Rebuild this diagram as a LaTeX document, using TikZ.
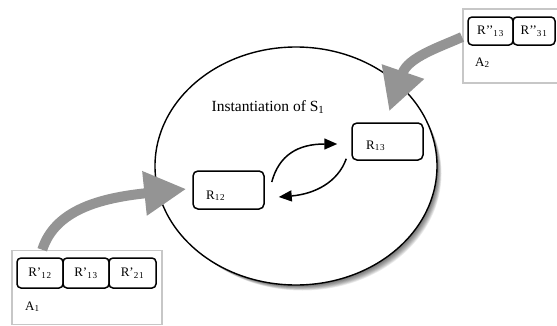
\documentclass[tikz,border=0pt]{standalone}
\usepackage{fontspec}
\setmainfont{Liberation Serif}
\usetikzlibrary{arrows.meta,shapes.geometric}
\begin{document}
\begin{tikzpicture}[x=1pt,y=1pt,
  rbox/.style={draw, line width=1.5pt, rounded corners=5pt, minimum width=71pt, minimum height=38pt, inner sep=0pt},
  sbox/.style={draw, line width=1.5pt, rounded corners=4pt, minimum width=46pt, minimum height=30pt, inner sep=0pt, font=\fontsize{13}{15}\selectfont},
  frame/.style={draw=black!22, line width=1.5pt},
  bigarrow/.style={draw=black!42, line width=10pt, -{Triangle[length=42pt,width=42pt]}},
  smallarrow/.style={line width=1.5pt, -{Triangle[length=13pt,width=11pt]}},
  lbl/.style={font=\fontsize{13}{15}\selectfont, inner sep=0pt, anchor=base west}
]
\useasboundingbox (0,0) rectangle (557,325);
% blurred shadow of the ellipse
\foreach \i in {1,...,10}
  \fill[black, opacity=0.075] (296+\i*0.65,159-\i*0.75) ellipse [x radius=141-\i*0.2, y radius=119-\i*0.2];
\node[ellipse, draw, line width=1.4pt, fill=white, minimum width=282pt, minimum height=238pt, inner sep=0pt] (s1) at (296,159) {};
\node[font=\fontsize{15.5}{17}\selectfont, anchor=base, inner sep=0pt] (title) at (268,214) {Instantiation of S\textsubscript{1}};

\node[rbox] (r12) at (228.5,135) {};
\node[lbl] (r12t) at (206,126) {R\textsubscript{1\kern.8pt2}};
\node[rbox, minimum height=37pt] (r13) at (387.5,183.5) {};
\node[lbl] (r13t) at (366,176) {R\textsubscript{1\kern.8pt3}};

% A1
\node[frame, minimum width=150pt, minimum height=74pt, inner sep=0pt] (a1) at (87,37.5) {};
\node[sbox] (p12) at (40,52) {R’\textsubscript{1\kern.8pt2}};
\node[sbox] (p13) at (86,52) {R’\textsubscript{1\kern.8pt3}};
\node[sbox, minimum width=47pt] (p21) at (132.5,52) {R’\textsubscript{2\kern.8pt1}};
\node[lbl] (a1t) at (25,15) {A\textsubscript{1}};

% A2
\draw[frame] (557,316) -| (463,242) -- (557,242);
\coordinate (a2in) at (462,288);
\node[sbox, minimum width=45pt, minimum height=28pt] (q13) at (490.5,294) {R’’\textsubscript{1\kern.8pt3}};
\node[sbox, minimum width=42pt, minimum height=28pt] (q31) at (534,294) {R’’\textsubscript{3\kern.8pt1}};
\node[lbl] (a2t) at (475,259) {A\textsubscript{2}};

% big arrows
\draw[bigarrow] ([shift={(31,0)}]a1.north west) .. controls (55,115) and (100,127) .. ([shift={(-6,1)}]r12.west);
\draw[bigarrow] (a2in) .. controls (440,278) and (408,268) .. ([shift={(38,11)}]r13.north west);

% small arrows
\draw[smallarrow] ([shift={(7,8)}]r12.east) .. controls (279,170) and (298,181) .. ([shift={(-14,-2.5)}]r13.west);
\draw[smallarrow] ([shift={(-5,2)}]r13.south west) .. controls (338,143) and (315,131) .. ([shift={(14,-7)}]r12.east);
\end{tikzpicture}
\end{document}
